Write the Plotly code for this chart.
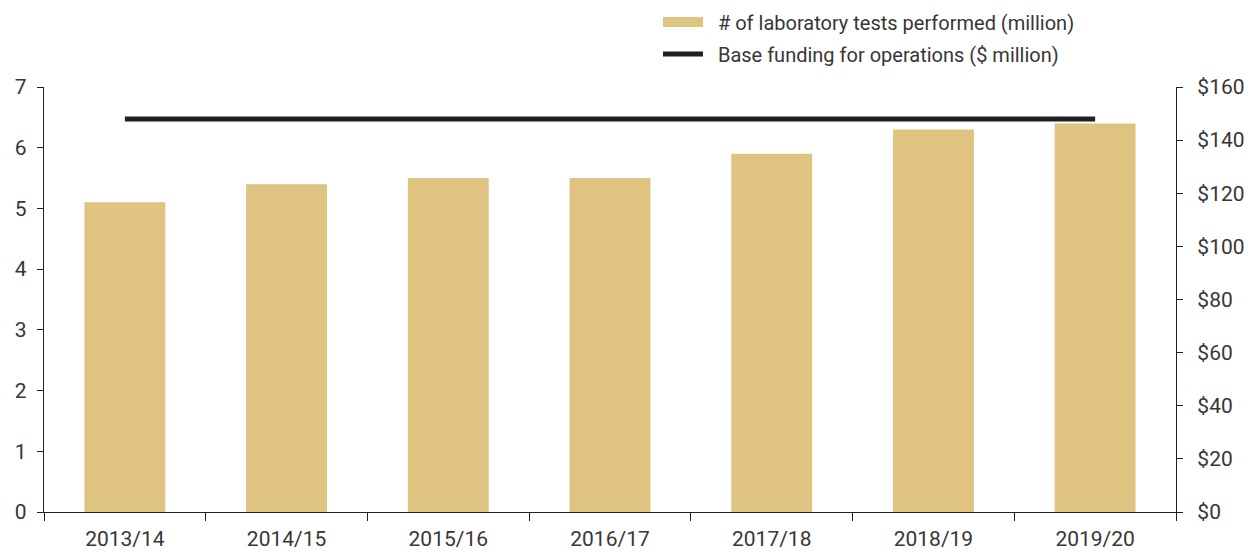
import plotly.graph_objects as go

years = ["2013/14", "2014/15", "2015/16", "2016/17", "2017/18", "2018/19", "2019/20"]
tests_million = [5.1, 5.4, 5.5, 5.5, 5.9, 6.3, 6.4]
funding_million = [148, 148, 148, 148, 148, 148, 148]
left_ticks = [0, 1, 2, 3, 4, 5, 6, 7]
right_ticks = [0, 20, 40, 60, 80, 100, 120, 140, 160]
right_labels = ["$0", "$20", "$40", "$60", "$80", "$100", "$120", "$140", "$160"]

GOLD = "#DEC381"
DARK = "#231F20"
FONT = "Roboto, Liberation Sans, sans-serif"
PAD = "\u00a0\u00a0"

fig = go.Figure()
fig.add_trace(go.Bar(x=years, y=tests_million, marker=dict(color=GOLD, line=dict(width=0)),
                     width=0.5, showlegend=False, yaxis="y"))
# legend entry for bars (wide swatch)
fig.add_trace(go.Scatter(x=[None], y=[None], mode="lines", line=dict(color=GOLD, width=14),
                         name=PAD + "# of laboratory tests performed (million)", yaxis="y",
                         legend="legend"))
fig.add_trace(go.Scatter(x=years, y=funding_million, mode="lines", line=dict(color=DARK, width=5),
                         name=PAD + "Base funding for operations ($ million)", yaxis="y2",
                         legend="legend2"))

leg_common = dict(xref="container", yref="container", xanchor="left", yanchor="middle",
                  bgcolor="rgba(0,0,0,0)", font=dict(size=20), itemwidth=40)

fig.update_layout(
    width=1253, height=552,
    margin=dict(l=36, r=85, t=79, b=48, autoexpand=False),
    paper_bgcolor="white", plot_bgcolor="white",
    font=dict(family=FONT, size=21, color="#3a3536"),
    showlegend=True,
    legend=dict(x=650 / 1253, y=1 - 14 / 552, **leg_common),
    legend2=dict(x=650 / 1253, y=1 - 46 / 552, **leg_common),
    xaxis=dict(type="category", tickson="boundaries", ticks="outside", ticklen=8,
               tickcolor="#231F20", showline=True, linecolor="#231F20", linewidth=1.3,
               showgrid=False, range=[-0.5, 6.5], ticklabelstandoff=8, tickangle=0),
    yaxis=dict(range=[0, 7], tickvals=left_ticks, ticks="outside", ticklen=6,
               tickcolor="#231F20", showline=True, linecolor="#231F20", linewidth=1.3,
               showgrid=False, zeroline=False, ticklabelstandoff=6),
    yaxis2=dict(range=[0, 160], overlaying="y", side="right", tickvals=right_ticks,
                ticktext=right_labels, ticks="outside", ticklen=6, tickcolor="#231F20",
                showline=True, linecolor="#231F20", linewidth=1.3, showgrid=False,
                zeroline=False, ticklabelstandoff=10),
)

fig.write_html("out.html")
